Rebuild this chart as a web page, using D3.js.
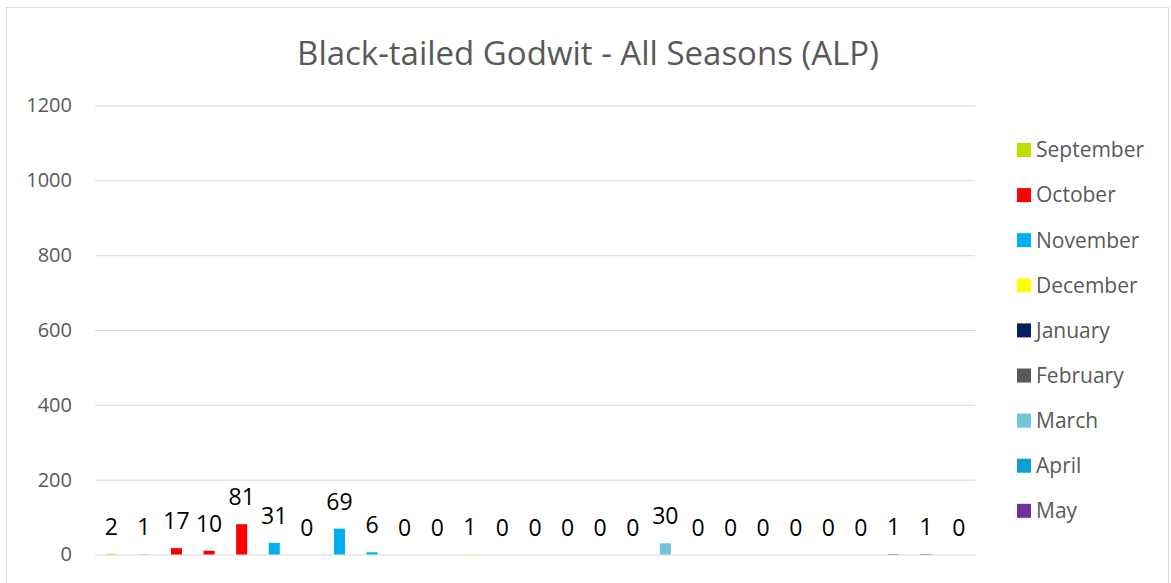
<!DOCTYPE html>
<html>
<head>
<meta charset="utf-8">
<script src="https://cdn.jsdelivr.net/npm/d3@7"></script>
<style>
  html, body { margin: 0; padding: 0; background: #fff; }
  svg { display: block; font-family: "Open Sans", "Liberation Sans", sans-serif; }
</style>
</head>
<body>
<svg id="chart" width="1171" height="583"></svg>
<script>
// Survey counts, one bar per visit, coloured by the month of the visit
const visits = d3.range(1, 28).map(String);
const counts = [2, 1, 17, 10, 81, 31, 0, 69, 6, 0, 0, 1, 0, 0, 0, 0, 0, 30, 0, 0, 0, 0, 0, 0, 1, 1, 0];
const visitMonths = ["September", "March", "October", "October", "October", "November", "November",
  "November", "November", "December", "December", "December", "January", "January", "January",
  "February", "February", "March", "March", "March", "April", "April", "April", "May", "May", "May", "May"];
const months = ["September", "October", "November", "December", "January", "February", "March", "April", "May"];
const monthColors = ["#BFDD00", "#FF0000", "#00B0F0", "#FFFF00", "#002060", "#595959", "#72C4D6", "#0F9ED5", "#7030A0"];
const yTicks = [0, 200, 400, 600, 800, 1000, 1200];
const title = "Black-tailed Godwit - All Seasons (ALP)";

const svg = d3.select("#chart");

// Chart frame
svg.append("rect")
  .attr("x", 6.5).attr("y", 7.5)
  .attr("width", 1162).attr("height", 590)
  .attr("fill", "#fff").attr("stroke", "#d9d9d9").attr("stroke-width", 1);

const plot = { left: 95, right: 975, top: 105.5, bottom: 554.5 };

const x = d3.scaleBand().domain(visits).range([plot.left, plot.right]).paddingInner(0.66).paddingOuter(0.33);
const y = d3.scaleLinear().domain([0, 1200]).range([plot.bottom, plot.top]);
const color = d3.scaleOrdinal().domain(months).range(monthColors);

// Title
svg.append("text")
  .attr("x", 588).attr("y", 65)
  .attr("text-anchor", "middle")
  .attr("fill", "#595959")
  .attr("font-size", 33)
  .text(title);

// Gridlines and value axis
const yAxis = d3.axisLeft(y).tickValues(yTicks).tickFormat(d3.format("d"))
  .tickSize(-(plot.right - plot.left)).tickPadding(23);
const gy = svg.append("g").attr("transform", `translate(${plot.left},0)`).call(yAxis);
gy.select(".domain").remove();
gy.selectAll(".tick line").attr("stroke", "#d9d9d9").attr("stroke-width", 1);
gy.selectAll(".tick text")
  .attr("fill", "#595959")
  .attr("font-size", 20)
  .attr("font-family", "Open Sans, sans-serif");

// Bars
svg.append("g").selectAll("rect")
  .data(counts)
  .join("rect")
  .attr("x", (d, i) => x(visits[i]))
  .attr("width", x.bandwidth())
  .attr("y", d => y(d))
  .attr("height", d => y(0) - y(d))
  .attr("fill", (d, i) => color(visitMonths[i]));

// Value labels
svg.append("g").selectAll("text")
  .data(counts)
  .join("text")
  .attr("x", (d, i) => x(visits[i]) + x.bandwidth() / 2)
  .attr("y", d => y(d) - 19)
  .attr("text-anchor", "middle")
  .attr("fill", "#000")
  .attr("font-size", 23)
  .text(d => d);

// Legend
const legend = svg.append("g").attr("transform", "translate(1017,0)");
const rows = legend.selectAll("g")
  .data(months)
  .join("g")
  .attr("transform", (d, i) => `translate(0,${150 + i * 45.1})`);
rows.append("rect")
  .attr("x", 0).attr("y", -7)
  .attr("width", 14).attr("height", 14)
  .attr("fill", d => color(d));
rows.append("text")
  .attr("x", 19).attr("y", 0)
  .attr("dy", "0.35em")
  .attr("fill", "#595959")
  .attr("font-size", 21)
  .text(d => d);
</script>
</body>
</html>
